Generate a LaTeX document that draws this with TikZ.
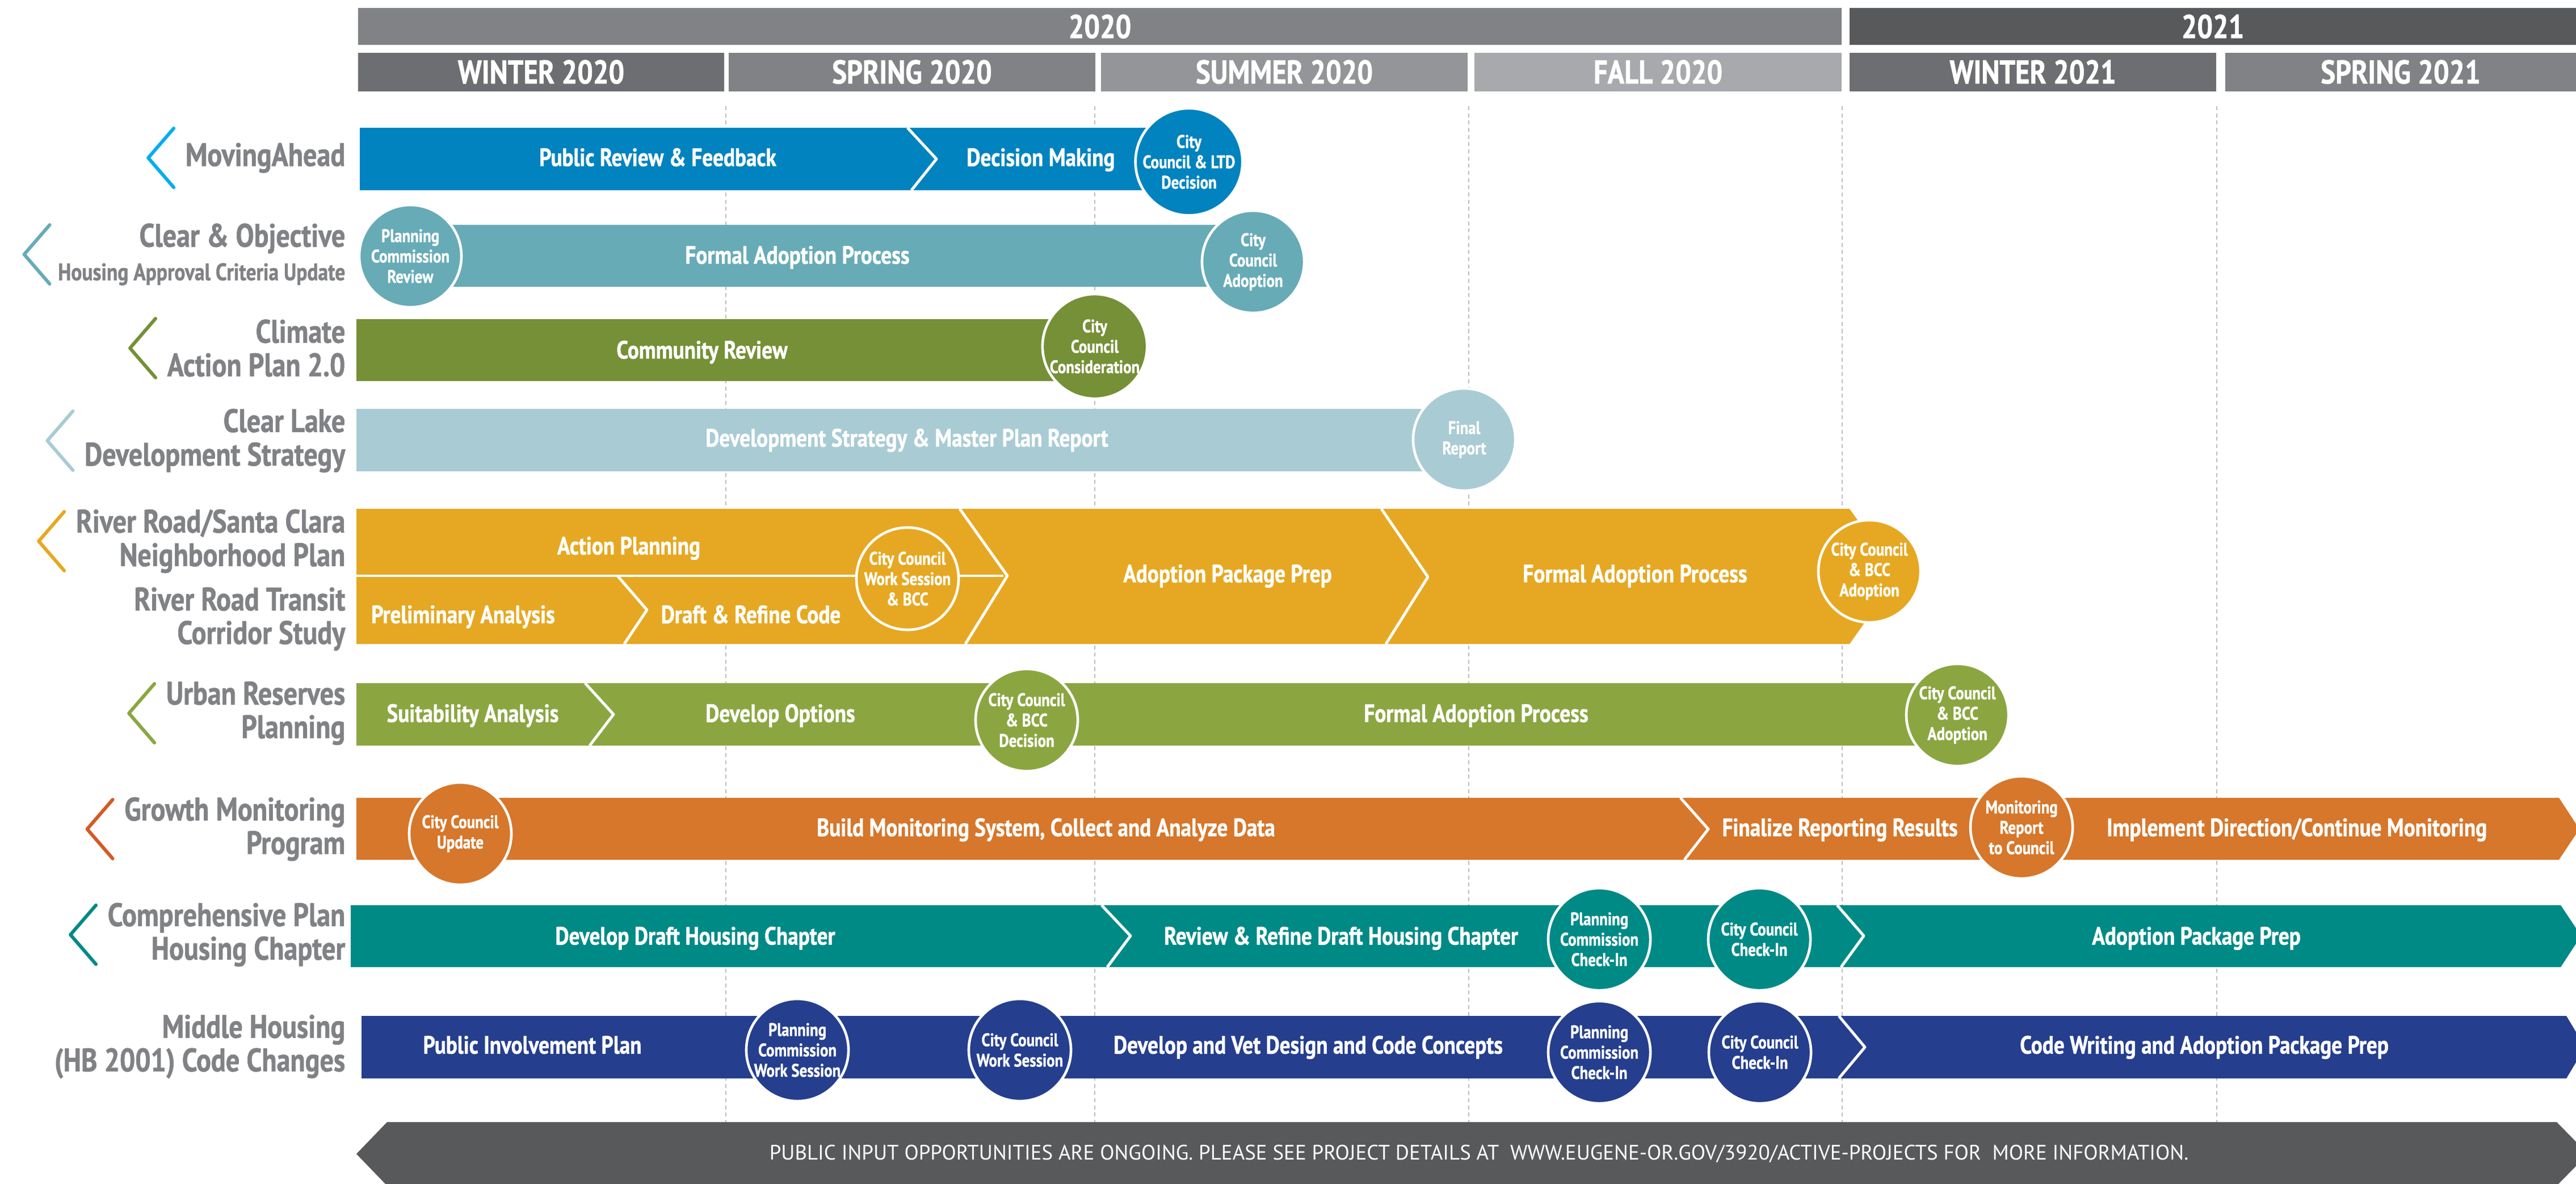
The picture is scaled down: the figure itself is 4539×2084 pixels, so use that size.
\documentclass[tikz,border=0pt]{standalone}
\usepackage{fontspec}
\setmainfont{PT Sans}[FakeStretch=0.84, BoldFeatures={FakeBold=1}]
\newfontfamily\banfont{PT Sans}
\definecolor{labgray}{HTML}{808285}
\definecolor{yeargray}{HTML}{808285}
\definecolor{yeardark}{HTML}{58595B}
\definecolor{wintgray}{HTML}{6D6E71}
\definecolor{springgray}{HTML}{808285}
\definecolor{summgray}{HTML}{939598}
\definecolor{fallgray}{HTML}{A7A9AC}
\definecolor{gridgray}{HTML}{BCBEC0}
\definecolor{mablue}{HTML}{0083BE}
\definecolor{machev}{HTML}{00AEEF}
\definecolor{coteal}{HTML}{67ABB7}
\definecolor{cagreen}{HTML}{759036}
\definecolor{clblue}{HTML}{A9CBD4}
\definecolor{rrorange}{HTML}{E6A822}
\definecolor{urgreen}{HTML}{8BA641}
\definecolor{gmorange}{HTML}{D6772B}
\definecolor{gmchev}{HTML}{D35A27}
\definecolor{hcteal}{HTML}{008A86}
\definecolor{mhblue}{HTML}{253E8D}
\definecolor{bannergray}{HTML}{58595B}
\begin{document}
\begin{tikzpicture}[x=0.01cm, y=-0.01cm, line join=round, font=\bfseries]
	\tikzset{
		lab/.style={anchor=east, align=right, inner sep=0pt, text=labgray, font=\fontsize{16.3}{16.8}\selectfont\bfseries},
		task/.style={inner sep=0pt, text height=8.8pt, text depth=0pt, text=white, font=\fontsize{12.6}{13}\selectfont\bfseries},
		mile/.style={circle, fill=#1, draw=white, line width=1.3pt, minimum size=1.8cm, inner sep=0pt, align=center, text=white, font=\fontsize{9.1}{10.2}\selectfont\bfseries},
		sep/.style={draw=white, line width=1.4pt},
		chev/.style={draw=#1, line width=1.7pt, line cap=round},
		hdr/.style={inner sep=0pt, text height=11.4pt, text depth=0pt, text=white, font=\fontsize{16.5}{17}\selectfont\bfseries}
	}
	\useasboundingbox (0,0) rectangle (4539,2084);
	\fill[yeargray] (631,14) rectangle (3245,79);
	\fill[yeardark] (3259,14) rectangle (4539,79);
	\node[hdr] (y20) at (1938,47) {2020};
	\node[hdr] (y21) at (3899,47) {2021};
	\foreach \a/\b/\c/\t in {631/1276/wintgray/WINTER 2020, 1284/1930/springgray/SPRING 2020, 1940/2586/summgray/SUMMER 2020, 2598/3245/fallgray/FALL 2020, 3259/3905/wintgray/WINTER 2021, 3921/4539/springgray/SPRING 2021}{
		\fill[\c] (\a,93) rectangle (\b,161);
		\node[hdr] (s\a) at ({(\a+\b)/2},127) {\t};
	}
	\foreach \x in {1279,1929,2588,3246,3906}
		\draw[gridgray, line width=0.8pt, dash pattern=on 2pt off 1.6pt] (\x,187) -- (\x,1976);
	\fill[mablue] (634,225) rectangle (2095,335);
	\fill[coteal] (723,396) rectangle (2208,505);
	\fill[cagreen] (628,562) rectangle (1929,671);
	\fill[clblue] (628,720) rectangle (2580,830);
	\fill[rrorange] (628,896) -- (3259,896) -- (3343,1015) -- (3259,1134) -- (628,1134) -- cycle;
	\fill[urgreen] (628,1203) rectangle (3449,1313);
	\fill[gmorange] (628,1405) -- (4509,1405) -- (4545,1460) -- (4509,1514) -- (628,1514) -- cycle;
	\fill[hcteal] (618,1594) -- (4512,1594) -- (4548,1648) -- (4512,1703) -- (618,1703) -- cycle;
	\fill[mhblue] (637,1789) -- (4522,1789) -- (4555,1844) -- (4522,1899) -- (637,1899) -- cycle;
	\fill[bannergray] (682,1976) -- (4505,1976) -- (4560,2032) -- (4505,2088) -- (682,2088) -- (628,2032) -- cycle;
	\draw[sep] (1599,225) -- (1650,280) -- (1606,335);
	\draw[sep] (628,1014) -- (1768,1014);
	\draw[sep] (1088,1014) -- (1140,1074) -- (1100,1134);
	\draw[sep] (1691,896) -- (1775,1014) -- (1701,1134);
	\draw[sep] (2434,896) -- (2516,1016) -- (2442,1134);
	\draw[sep] (1031,1203) -- (1081,1258) -- (1039,1313);
	\draw[sep] (2961,1405) -- (3010,1460) -- (2968,1514);
	\draw[sep] (1941,1594) -- (1992,1648) -- (1951,1703);
	\draw[sep] (3237,1594) -- (3284,1648) -- (3244,1703);
	\draw[sep] (3240,1789) -- (3286,1844) -- (3240,1899);
	\path
	(2095,285) node[mile=mablue] (m1) {City\\Council \& LTD\\Decision}
	(723,451) node[mile=coteal] (c1) {Planning\\Commission\\Review}
	(2208,461) node[mile=coteal] (c2) {City\\Council\\Adoption}
	(1929,610) node[mile=cagreen] (k1) {City\\Council\\Consideration}
	(2580,774) node[mile=clblue] (f1) {Final\\Report}
	(1599,1019) node[mile=rrorange] (r1) {City Council\\Work Session\\\& BCC}
	(3294,1006) node[mile=rrorange] (r2) {City Council\\\& BCC\\Adoption}
	(1809,1268) node[mile=urgreen] (u1) {City Council\\\& BCC\\Decision}
	(3449,1259) node[mile=urgreen] (u2) {City Council\\\& BCC\\Adoption}
	(811,1468) node[mile=gmorange] (g1) {City Council\\Update}
	(3562,1457) node[mile=gmorange] (g2) {Monitoring\\Report\\to Council}
	(2818,1654) node[mile=hcteal] (h1) {Planning\\Commission\\Check-In}
	(3100,1654) node[mile=hcteal] (h2) {City Council\\Check-In}
	(1405,1849) node[mile=mhblue] (w1) {Planning\\Commission\\Work Session}
	(1797,1849) node[mile=mhblue] (w2) {City Council\\Work Session}
	(2818,1853) node[mile=mhblue] (w3) {Planning\\Commission\\Check-In}
	(3101,1853) node[mile=mhblue] (w4) {City Council\\Check-In}
	;
	\path
	(1159,277) node[task] (tPR) {Public Review \& Feedback}
	(1834,277) node[task] (tDM) {Decision Making}
	(1405,449) node[task] (tFA) {Formal Adoption Process}
	(1237,616) node[task] (tCR) {Community Review}
	(1598,771) node[task] (tDS) {Development Strategy \& Master Plan Report}
	(1108,961) node[task] (tAP) {Action Planning}
	(816,1082) node[task] (tPA) {Preliminary Analysis}
	(1323,1082) node[task] (tDR) {Draft \& Refine Code}
	(2163,1010) node[task] (tAK) {Adoption Package Prep}
	(2881,1010) node[task] (tRF) {Formal Adoption Process}
	(833,1256) node[task] (tSA) {Suitability Analysis}
	(1375,1256) node[task] (tDO) {Develop Options}
	(2601,1256) node[task] (tUF) {Formal Adoption Process}
	(1843,1457) node[task] (tBM) {Build Monitoring System, Collect and Analyze Data}
	(3242,1457) node[task] (tFR) {Finalize Reporting Results}
	(4047,1457) node[task] (tID) {Implement Direction/Continue Monitoring}
	(1225,1648) node[task] (tDH) {Develop Draft Housing Chapter}
	(2363,1648) node[task] (tRR) {Review \& Refine Draft Housing Chapter}
	(3870,1648) node[task] (tHA) {Adoption Package Prep}
	(938,1840) node[task] (tPI) {Public Involvement Plan}
	(2305,1840) node[task] (tDV) {Develop and Vet Design and Code Concepts}
	(3884,1840) node[task] (tCW) {Code Writing and Adoption Package Prep}
	;
	\path
	(609,278) node[lab] (lMA) {MovingAhead}
	(609,448) node[lab] (lCO) {Clear \& Objective\\{\fontsize{12}{13}\selectfont Housing Approval Criteria Update}}
	(609,613) node[lab] (lCA) {Climate\\Action Plan 2.0}
	(609,776) node[lab] (lCL) {Clear Lake\\Development Strategy}
	(609,953) node[lab] (lRR) {River Road/Santa Clara\\Neighborhood Plan}
	(609,1090) node[lab] (lRT) {River Road Transit\\Corridor Study}
	(609,1256) node[lab] (lUR) {Urban Reserves\\Planning}
	(609,1460) node[lab] (lGM) {Growth Monitoring\\Program}
	(609,1646) node[lab] (lCP) {Comprehensive Plan\\Housing Chapter}
	(609,1843) node[lab] (lMH) {Middle Housing\\(HB 2001) Code Changes}
	;
	\draw[chev=machev] ([shift={(-20,-52)}]lMA.west) -- ++(-45,52) -- ++(45,52);
	\draw[chev=coteal] ([shift={(-14,-52)}]lCO.west) -- ++(-45,52) -- ++(45,52);
	\draw[chev=cagreen] ([shift={(-20,-52)}]lCA.west) -- ++(-45,52) -- ++(45,52);
	\draw[chev=clblue] ([shift={(-20,-52)}]lCL.west) -- ++(-45,52) -- ++(45,52);
	\draw[chev=rrorange] ([shift={(-20,-52)}]lRR.west) -- ++(-45,52) -- ++(45,52);
	\draw[chev=urgreen] ([shift={(-20,-52)}]lUR.west) -- ++(-45,52) -- ++(45,52);
	\draw[chev=gmchev] ([shift={(-20,-52)}]lGM.west) -- ++(-45,52) -- ++(45,52);
	\draw[chev=hcteal] ([shift={(-20,-52)}]lCP.west) -- ++(-45,52) -- ++(45,52);
	\node[text=white, inner sep=0pt, font=\fontsize{10.5}{11}\banfont] (ban) at (2606,2032) {PUBLIC INPUT OPPORTUNITIES ARE ONGOING. PLEASE SEE PROJECT DETAILS AT\ \ WWW.EUGENE-OR.GOV/3920/ACTIVE-PROJECTS FOR\ \ MORE INFORMATION.};
\end{tikzpicture}
\end{document}
